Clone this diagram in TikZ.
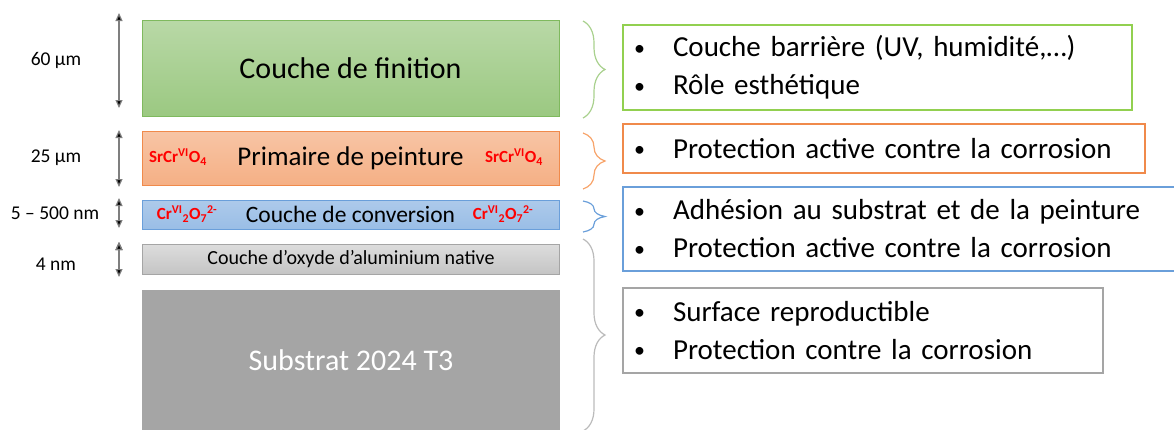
\documentclass[tikz,border=0pt]{standalone}
\usepackage{fontspec}
\setmainfont{Carlito}
\usetikzlibrary{arrows.meta,decorations.pathreplacing}

\definecolor{finG}{HTML}{7FB95E}
\definecolor{priO}{HTML}{F08A4B}
\definecolor{conB}{HTML}{6A9FDA}
\definecolor{oxyG}{HTML}{A5A5A5}
\definecolor{arrG}{HTML}{7F7F7F}
\definecolor{roleG}{HTML}{92D050}
\definecolor{braceG}{HTML}{A9D18E}
\definecolor{braceO}{HTML}{F7A46B}

\newcommand{\bul}{\makebox[39pt][l]{\raisebox{1.5pt}{\fontsize{22}{22}\selectfont\textbullet}}}
\newcommand{\srcr}{SrCr\textsuperscript{VI}O\textsubscript{4}}
\newcommand{\crdi}{Cr\textsuperscript{VI}\textsubscript{2}O\textsubscript{7}\textsuperscript{2-}}

\begin{document}
\begin{tikzpicture}[x=1pt, y=-1pt]
        \tikzset{
        layer/.style={rectangle,minimum width=417pt,inner sep=0,line width=1pt},
        ion/.style={text=red,font=\fontsize{17}{19}\selectfont\bfseries},
        thick lbl/.style={font=\fontsize{19.5}{24}\selectfont},
        role box/.style={rectangle,draw,line width=1.2pt,inner xsep=11pt,inner ysep=0,
          align=left,font=\fontsize{29}{38}\selectfont},
        size arrow/.style={draw=arrG,line width=1.2pt,{Triangle[length=8pt,width=7pt]}-{Triangle[length=8pt,width=7pt]}},
        layer brace/.style={draw,line width=1.2pt,decorate,decoration={brace,amplitude=22pt}}
        }
        \clip (0,0) rectangle (1174,429);

        % layers
        \node[layer,draw=finG,top color=finG!55!white,bottom color=finG!78!white,
          font=\fontsize{30}{32}\selectfont] (fin) at (350.5,68) [minimum height=96pt] {Couche de finition};
        \node[layer,draw=priO,top color=priO!50!white,bottom color=priO!68!white,
          font=\fontsize{27}{30}\selectfont] (pri) at (350.5,158.5) [minimum height=54pt] {Primaire de peinture};
        \node[layer,draw=conB,top color=conB!55!white,bottom color=conB!68!white,
          font=\fontsize{23.5}{26}\selectfont] (con) at (350.5,214.5) [minimum height=29pt] {Couche de conversion};
        \node[layer,draw=oxyG,top color=oxyG!38!white,bottom color=oxyG!65!white,
          font=\fontsize{20}{24}\selectfont] (oxy) at (351,259) [minimum height=30pt] {Couche d’oxyde d’aluminium native};
        \node[layer,draw=oxyG,fill=oxyG,text=white,
          font=\fontsize{30}{32}\selectfont] (sub) at (351,360) [minimum height=140pt] {Substrat 2024 T3};

        \node[ion] (ion1) at (178,157) {\srcr};
        \node[ion] (ion2) at (514,157) {\srcr};
        \node[ion] (ion3) at (187,214) {\crdi};
        \node[ion] (ion4) at (503,214) {\crdi};

        % thicknesses
        \node[thick lbl] (t1) at (56,60) {60 µm};
        \node[thick lbl] (t2) at (56,158) {25 µm};
        \node[thick lbl] (t3) at (55,213) {5 – 500 nm};
        \node[thick lbl] (t4) at (56,264) {4 nm};

        \coordinate (a1) at (119,13);  \coordinate (a2) at (119,108);
        \coordinate (a3) at (119,130); \coordinate (a4) at (119,187);
        \coordinate (a5) at (119,198); \coordinate (a6) at (119,228);
        \coordinate (a7) at (119,242); \coordinate (a8) at (119,277);
        \path[size arrow]
        (a1) edge (a2)
        (a3) edge (a4)
        (a5) edge (a6)
        (a7) edge (a8)
        ;

        % roles
        \node[role box,draw=roleG,minimum width=509pt,minimum height=85pt,text width=487pt]
          (r1) at (877.5,67.5) {\bul Couche barrière (UV, humidité,…)\\\bul Rôle esthétique};
        \node[role box,draw=priO,minimum width=522pt,minimum height=49pt,text width=500pt]
          (r2) at (884,148.5) {\bul Protection active contre la corrosion};
        \node[role box,draw=conB,minimum width=600pt,minimum height=84pt,text width=578pt]
          (r3) at (923,229) {\bul Adhésion au substrat et de la peinture\\\bul Protection active contre la corrosion};
        \node[role box,draw=oxyG,minimum width=480pt,minimum height=85pt,text width=458pt]
          (r4) at (863,330.5) {\bul Surface reproductible\\\bul Protection contre la corrosion};

        \coordinate (b1) at (583,21);  \coordinate (b2) at (583,118);
        \coordinate (b3) at (583,133); \coordinate (b4) at (583,189);
        \coordinate (b5) at (583,201); \coordinate (b6) at (583,232);
        \coordinate (b7) at (583,239); \coordinate (b8) at (583,431);
        \draw[layer brace,draw=braceG] (b1) -- (b2);
        \draw[layer brace,draw=braceO] (b3) -- (b4);
        \draw[layer brace,draw=conB] (b5) -- (b6);
        \draw[layer brace,draw=oxyG!75!white] (b7) -- (b8);
    \end{tikzpicture}
\end{document}
